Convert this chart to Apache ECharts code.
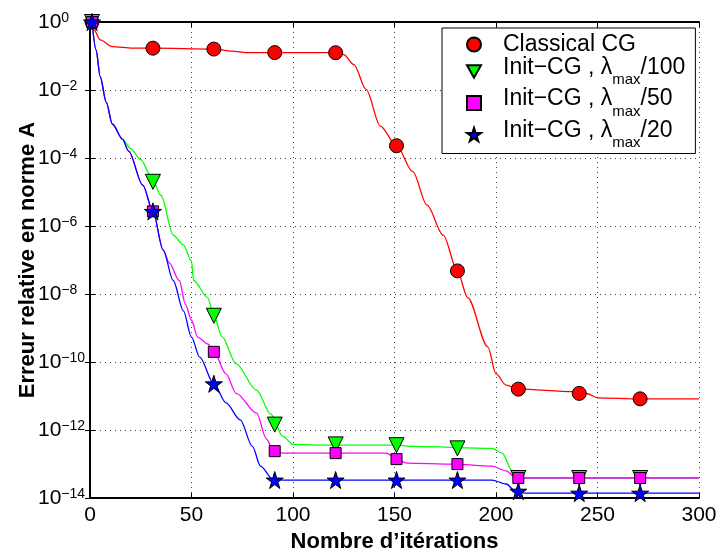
<!DOCTYPE html>
<html>
<head>
<meta charset="utf-8">
<script src="https://cdn.jsdelivr.net/npm/echarts@6/dist/echarts.min.js"></script>
<style>
  html, body { margin: 0; padding: 0; background: #fff; }
  #chart { width: 720px; height: 558px; }
</style>
</head>
<body>
<div id="chart"></div>
<script>
// iterations where the markers sit
const markIter = [1, 31, 61, 91, 121, 151, 181, 211, 241, 271];

// Classical CG
const cgIter = [1, 2, 5, 11, 21, 31, 61, 70, 77, 91, 121, 125, 130, 136, 143, 151, 159, 166, 174, 181, 186, 196, 200, 205, 211, 238, 245, 250, 271, 300];
const cgErr = [1, 0.59, 0.3, 0.19, 0.17, 0.17, 0.16, 0.14, 0.126, 0.126, 0.126, 0.11, 0.056, 0.0105, 8.7e-4, 2.3e-4, 4e-5, 4.1e-6, 5.4e-7, 4.8e-8, 7.9e-9, 2.8e-10, 4.5e-11, 2.1e-11, 1.6e-11, 1.35e-11, 1.17e-11, 8.9e-12, 8.3e-12, 8.3e-12];
const cgMark = [1, 0.17, 0.16, 0.126, 0.125, 2.3e-4, 4.8e-8, 1.6e-11, 1.2e-11, 8.3e-12];

// Init-CG, lambda_max/100
const i100Iter = [1, 3, 5, 8, 11, 16, 20, 25, 30, 35, 41, 46, 50, 51, 58, 61, 65, 72, 82, 89, 95, 100, 118, 151, 159, 198, 203, 208, 211, 300];
const i100Err = [1, 0.15, 0.025, 4.4e-3, 1e-3, 3.6e-4, 1.9e-4, 9e-5, 3e-5, 7.9e-6, 5.4e-7, 2.8e-7, 9.3e-8, 2.5e-8, 7.9e-9, 2.3e-9, 5.6e-10, 8.9e-11, 1.5e-11, 3e-12, 6.5e-13, 3.8e-13, 3.6e-13, 3.6e-13, 3.3e-13, 2.9e-13, 2.1e-13, 6.3e-14, 3.9e-14, 3.9e-14];
const i100Mark = [1, 2e-5, 2.3e-9, 1.45e-12, 3.8e-13, 3.6e-13, 2.9e-13, 3.9e-14, 3.9e-14, 3.9e-14];

// Init-CG, lambda_max/50
const i50Iter = [1, 3, 5, 8, 11, 16, 19, 26, 31, 36, 39, 44, 47, 50, 53, 58, 61, 67, 72, 82, 87, 90, 95, 146, 151, 156, 179, 198, 205, 210, 300];
const i50Err = [1, 0.15, 0.025, 4.4e-3, 1e-3, 3.6e-4, 1.6e-4, 1.6e-5, 2.7e-6, 2e-7, 8.3e-8, 2.5e-8, 5e-9, 1.7e-9, 5.4e-10, 3.4e-10, 2e-10, 4.5e-11, 1.2e-11, 3.2e-12, 5.4e-13, 2.7e-13, 2.1e-13, 2.1e-13, 1.4e-13, 1.07e-13, 1e-13, 8.7e-14, 6.3e-14, 3.9e-14, 3.9e-14];
const i50Mark = [1, 2.7e-6, 2e-10, 2.4e-13, 2.1e-13, 1.4e-13, 1e-13, 3.9e-14, 3.9e-14, 3.9e-14];

// Init-CG, lambda_max/20
const i20Iter = [1, 3, 5, 8, 11, 16, 19, 26, 31, 36, 41, 46, 50, 54, 61, 67, 74, 80, 84, 90, 95, 198, 205, 210, 215, 300];
const i20Err = [1, 0.15, 0.025, 4.4e-3, 1e-3, 3.6e-4, 1.6e-4, 1.6e-5, 2.7e-6, 2e-7, 2.5e-8, 3.2e-9, 5.4e-10, 1.4e-10, 2.3e-11, 6.3e-12, 2e-12, 3.3e-13, 8.7e-14, 3.6e-14, 3.4e-14, 3.4e-14, 2.6e-14, 1.5e-14, 1.4e-14, 1.4e-14];
const i20Mark = [1, 2.7e-6, 2.3e-11, 3.4e-14, 3.4e-14, 3.4e-14, 3.4e-14, 1.6e-14, 1.4e-14, 1.4e-14];

const names = ['Classical CG', 'Init-CG 100', 'Init-CG 50', 'Init-CG 20'];
const colors = ['#ff0000', '#00ff00', '#ff00ff', '#0000ff'];

const FONT = '"Liberation Sans", Arial, Helvetica, sans-serif';
const STAR = 'path://M50,0 L61,35 L98,35 L68,57 L79,91 L50,70 L21,91 L32,57 L2,35 L39,35 Z';
const TRI_DOWN = 'path://M0,0 L100,0 L50,90 Z';
const symbols = ['circle', TRI_DOWN, 'rect', STAR];
const symbolSizes = [14, 15, 11, 17];

function zip(xs, ys) {
  return xs.map((x, i) => [x, ys[i]]);
}

// text widths, so the subscript "max" can sit on its own lower line
const ctx = document.createElement('canvas').getContext('2d');
ctx.font = '23px "Liberation Sans"';
const headW = ctx.measureText('Init\u2212CG , \u03bb').width;
ctx.font = '15px "Liberation Sans"';
const subW = ctx.measureText('max').width;
const LEFT_PAD = 17;

const lines = [[cgIter, cgErr], [i100Iter, i100Err], [i50Iter, i50Err], [i20Iter, i20Err]];
const marks = [cgMark, i100Mark, i50Mark, i20Mark];

const series = [];
lines.forEach((l, k) => {
  series.push({
    name: 'line' + k,
    type: 'line',
    data: zip(l[0], l[1]),
    showSymbol: false,
    symbol: 'none',
    smooth: 0.3,
    smoothMonotone: 'x',
    lineStyle: { color: colors[k], width: 1.3 },
    z: 2,
  });
});
marks.forEach((m, k) => {
  series.push({
    name: names[k],
    type: 'scatter',
    data: zip(markIter, m),
    symbol: symbols[k],
    symbolSize: symbolSizes[k],
    itemStyle: { color: colors[k], borderColor: '#000', borderWidth: 1, opacity: 1 },
    z: 3,
  });
});

const supLabel = (v) => {
  const e = Math.round(Math.log10(v));
  return '{b|10}{s|' + (e === 0 ? '0' : '\u2212' + (-e)) + '}';
};

let myChart = echarts.init(document.getElementById('chart'));
myChart.setOption({
  animation: false,
  backgroundColor: '#fff',
  grid: { left: 90, right: 21, top: 22, bottom: 56 },
  legend: {
    data: names,
    orient: 'vertical',
    left: 442,
    top: 28,
    padding: [5, 10, 3, 24],
    itemWidth: 14,
    itemHeight: 14,
    itemGap: 0,
    borderColor: '#000',
    borderWidth: 1,
    borderRadius: 0,
    backgroundColor: '#fff',
    selectedMode: false,
    z: 10,
    formatter: (name) => {
      if (name === 'Classical CG') return '{c|Classical CG}';
      const d = name.split(' ')[1];
      return '{h|Init\u2212CG , \u03bb}{m|/' + d + '}\n{s|max}';
    },
    textStyle: {
      fontFamily: FONT,
      fontSize: 23,
      color: '#000',
      rich: {
        c: { fontFamily: FONT, fontSize: 23, color: '#000', lineHeight: 16, padding: [0, 0, 0, LEFT_PAD] },
        h: { fontFamily: FONT, fontSize: 23, color: '#000', lineHeight: 17, padding: [0, subW, 0, LEFT_PAD] },
        m: { fontFamily: FONT, fontSize: 23, color: '#000', lineHeight: 17 },
        s: { fontFamily: FONT, fontSize: 15, color: '#000', lineHeight: 8, padding: [0, 0, 0, LEFT_PAD + headW] },
      },
    },
  },
  xAxis: [
    {
      type: 'value',
      min: 0,
      max: 300,
      interval: 50,
      name: 'Nombre d\u2019it\u00e9rations',
      nameLocation: 'middle',
      nameGap: 27,
      nameTextStyle: { fontFamily: FONT, fontSize: 22, fontWeight: 'bold', color: '#000' },
      axisLine: { lineStyle: { color: '#000', width: 2 } },
      axisTick: { inside: true, length: 5, lineStyle: { color: '#000' } },
      axisLabel: { fontFamily: FONT, fontSize: 21, color: '#000', margin: 7 },
      splitLine: { show: true, lineStyle: { color: '#444', type: [1, 4], width: 1 } },
    },
    {
      type: 'value',
      position: 'top',
      min: 0,
      max: 300,
      interval: 50,
      axisLine: { lineStyle: { color: '#000', width: 2 } },
      axisTick: { inside: true, length: 5, lineStyle: { color: '#000' } },
      axisLabel: { show: false },
      splitLine: { show: false },
    },
  ],
  yAxis: [
    {
      type: 'log',
      logBase: 10,
      min: 1e-14,
      max: 1,
      interval: 2,
      name: 'Erreur relative en norme A',
      nameLocation: 'middle',
      nameGap: 51,
      nameMoveOverlap: false,
      nameTextStyle: { fontFamily: FONT, fontSize: 22, fontWeight: 'bold', color: '#000' },
      axisLine: { lineStyle: { color: '#000', width: 2 } },
      axisTick: { inside: true, length: 5, lineStyle: { color: '#000' } },
      axisLabel: {
        align: 'left',
        margin: 52,
        formatter: supLabel,
        rich: {
          b: { fontFamily: FONT, fontSize: 21, color: '#000', lineHeight: 22, padding: [6, 0, 6, 0] },
          s: { fontFamily: FONT, fontSize: 14, color: '#000', lineHeight: 14, verticalAlign: 'top' },
        },
      },
      splitLine: { show: true, lineStyle: { color: '#444', type: [1, 4], width: 1 } },
    },
    {
      type: 'log',
      logBase: 10,
      position: 'right',
      min: 1e-14,
      max: 1,
      interval: 2,
      axisLine: { show: true, lineStyle: { color: '#000', width: 2 } },
      axisTick: { inside: true, length: 5, lineStyle: { color: '#000' } },
      axisLabel: { show: false },
      splitLine: { show: false },
    },
  ],
  series: series,
});
</script>
</body>
</html>
